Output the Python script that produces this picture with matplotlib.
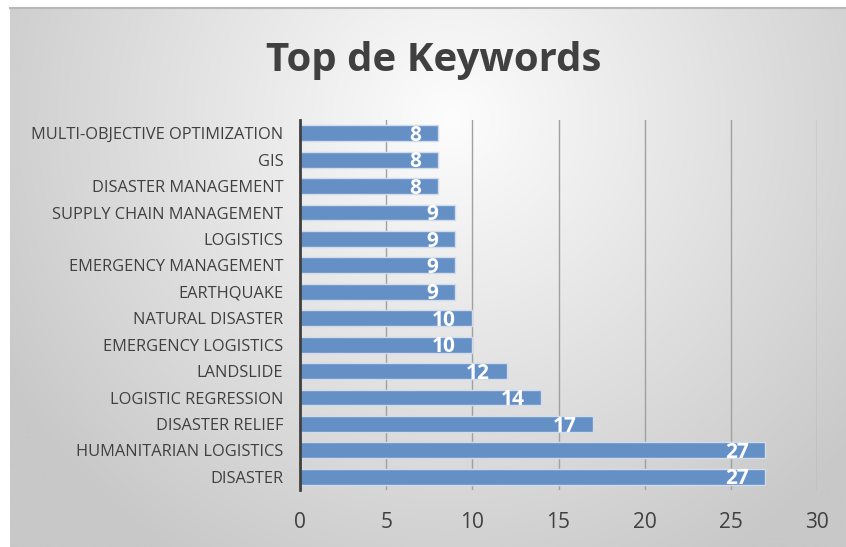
import numpy as np
import matplotlib.pyplot as plt

# keywords listed bottom-up, as they stack on the y axis
keywords = ["DISASTER", "HUMANITARIAN LOGISTICS", "DISASTER RELIEF",
            "LOGISTIC REGRESSION", "LANDSLIDE", "EMERGENCY LOGISTICS",
            "NATURAL DISASTER", "EARTHQUAKE", "EMERGENCY MANAGEMENT",
            "LOGISTICS", "SUPPLY CHAIN MANAGEMENT", "DISASTER MANAGEMENT",
            "GIS", "MULTI-OBJECTIVE OPTIMIZATION"]
counts = [27, 27, 17, 14, 12, 10, 10, 9, 9, 9, 9, 8, 8, 8]
xticks = [0, 5, 10, 15, 20, 25, 30]

W, H = 846, 547
fig = plt.figure(figsize=(W / 100, H / 100), dpi=100)
fig.patch.set_facecolor("white")

# radial grey background of the chart frame
bg = fig.add_axes([10 / W, 0, (W - 10) / W, (H - 8) / H])
yy, xx = np.mgrid[0:540, 0:836]
cx, cy = 440, 110
r = np.sqrt(((xx - cx) / 520.0) ** 2 + ((yy - cy) / 520.0) ** 2)
r = np.clip(r, 0, 1)
shade = 253 - 53 * r
img = np.dstack([shade, shade, shade]) / 255.0
bg.imshow(img, aspect="auto", extent=[0, 1, 0, 1], origin="upper")
bg.set_axis_off()
fig.add_artist(plt.Line2D([10 / W, 1], [(H - 8) / H] * 2, color="#b8b8b8", lw=1.5))

ax = fig.add_axes([300 / W, (H - 490) / H, 517 / W, 370 / H])
ax.patch.set_alpha(0)
y = np.arange(len(keywords))
ax.barh(y, counts, height=0.6, color="#6590c6", edgecolor="#d0dcec", linewidth=1, zorder=3)

for yi, v in zip(y, counts):
    ax.annotate(str(v), (v, yi), xytext=(-12, -1.5), textcoords="offset points",
                ha="right", va="center", color="white", fontsize=15,
                fontweight="bold", family="Open Sans", zorder=4)

ax.set_xlim(0, 30)
ax.set_ylim(-0.5, len(keywords) - 0.5)
ax.set_xticks(xticks)
ax.set_yticks(y)
ax.set_yticklabels(keywords, family="Open Sans", fontsize=11.8, color="#404040")
ax.tick_params(axis="x", length=0, pad=16, labelsize=15, labelcolor="#404040")
ax.tick_params(axis="y", length=0, pad=12)
for lab in ax.get_xticklabels():
    lab.set_family("Open Sans")
ax.grid(axis="x", color="#a0a0a0", linewidth=1, zorder=1)
for s in ["top", "right", "bottom"]:
    ax.spines[s].set_visible(False)
ax.spines["left"].set_color("#404040")
ax.spines["left"].set_linewidth(2)
ax.spines["left"].set_zorder(5)

fig.text(434 / W, 1 - 61 / H, "Top de Keywords", ha="center", va="center",
         fontsize=29, fontweight="bold", color="#404040", family="Open Sans")

fig.savefig("out.png", dpi=100)
